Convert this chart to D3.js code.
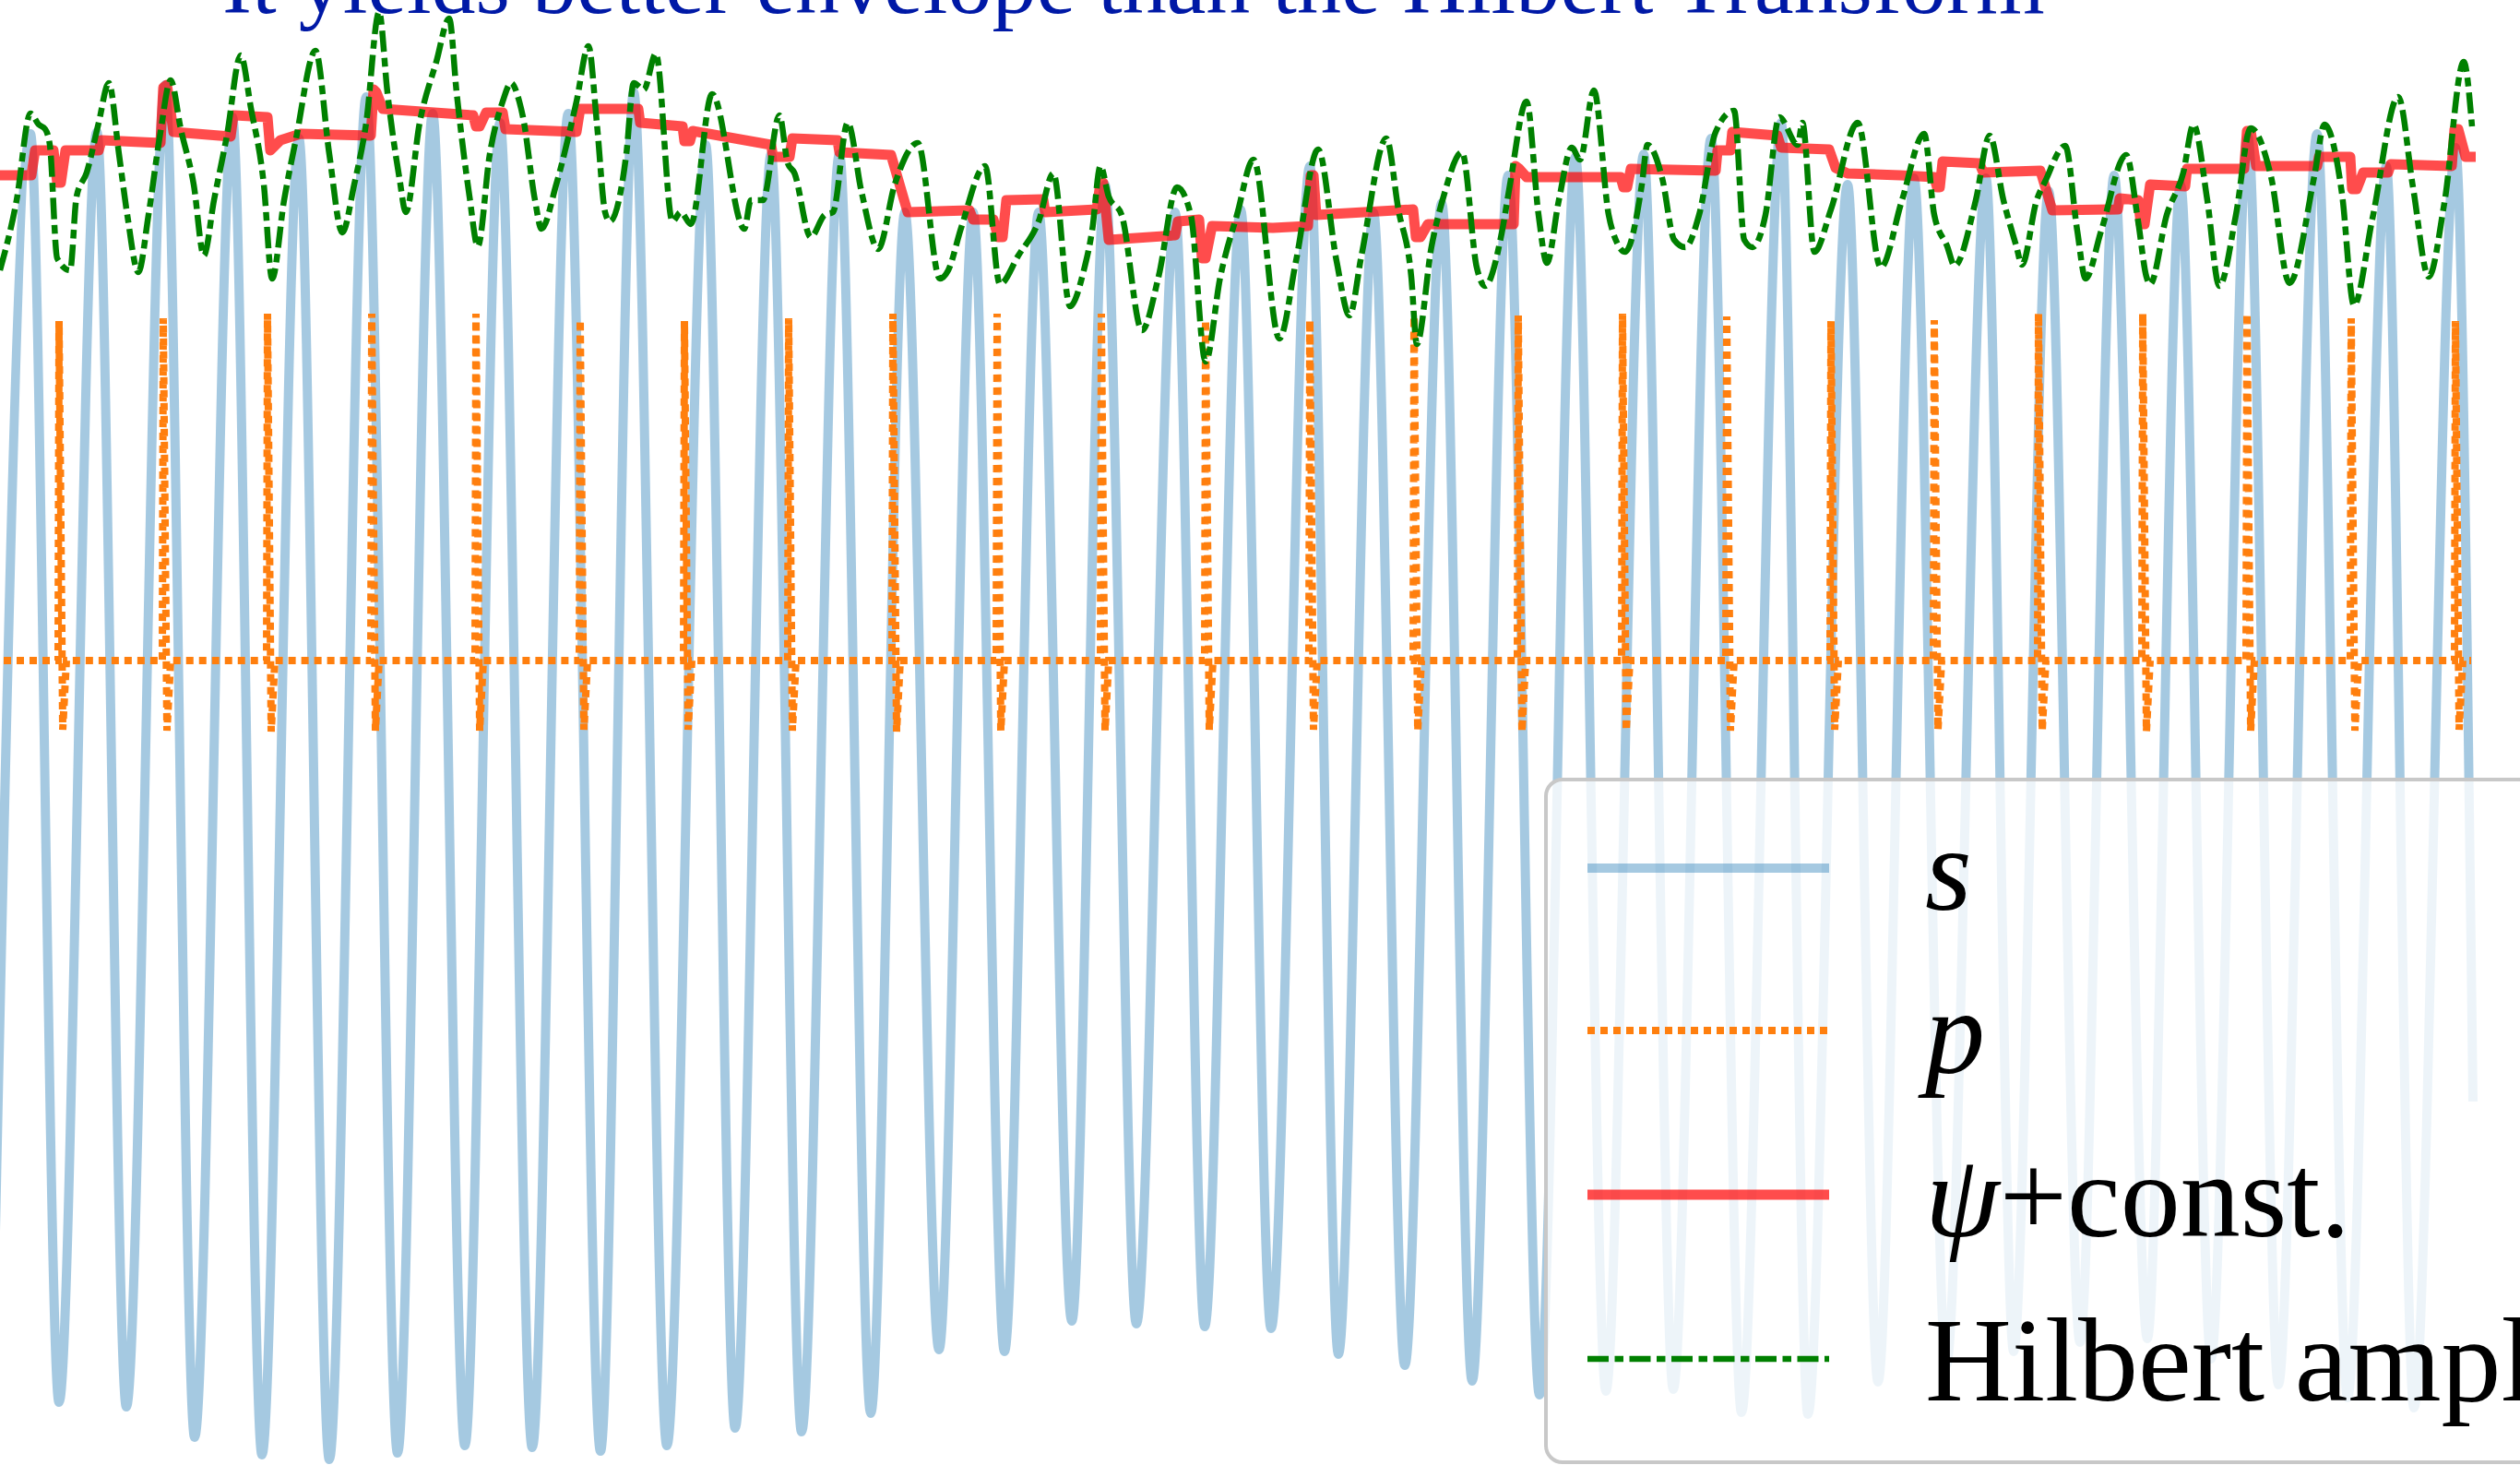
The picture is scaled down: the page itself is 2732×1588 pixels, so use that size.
<!DOCTYPE html>
<html>
<head>
<meta charset="utf-8">
<script src="https://cdn.jsdelivr.net/npm/d3@7"></script>
<style>
  html, body { margin: 0; padding: 0; background: #fff; overflow: hidden; }
  svg { display: block; }
</style>
</head>
<body>
<svg id="chart" width="2732" height="1588"></svg>
<script>
// ---------------- data (time in s, values in arbitrary units) ----------------
const titleText = "It yields better envelope than the Hilbert Transform";
const legendLabels = ["s", "p", "ψ+const.", "Hilbert amplitude"];

// signal s : local maxima / minima
const sPeakTime = [0.33, 1.05, 1.79, 2.52, 3.24, 3.97, 4.69, 5.42, 6.16, 6.87, 7.65, 8.36, 9.10, 9.81, 10.55, 11.26, 11.98, 12.74, 13.45, 14.20, 14.89, 15.63, 16.35, 17.08, 17.82, 18.55, 19.31, 20.03, 20.75, 21.53, 22.21, 22.92, 23.64, 24.37, 25.12, 25.87, 26.62];
const sPeakValue = [5.71, 5.73, 6.24, 5.89, 5.66, 6.11, 5.93, 5.83, 5.93, 6.16, 5.59, 5.49, 5.49, 4.86, 4.86, 4.86, 5.16, 4.86, 4.89, 5.36, 4.86, 4.96, 5.26, 5.46, 5.49, 5.66, 5.83, 5.16, 5.23, 5.23, 5.09, 5.26, 5.16, 5.68, 5.71, 5.36, 5.56];
const sTroughTime = [-0.08, 0.64, 1.37, 2.11, 2.84, 3.57, 4.31, 5.04, 5.77, 6.51, 7.23, 7.97, 8.69, 9.44, 10.18, 10.89, 11.62, 12.32, 13.06, 13.78, 14.51, 15.23, 15.96, 16.69, 17.41, 18.14, 18.88, 19.60, 20.36, 21.10, 21.83, 22.55, 23.28, 23.97, 24.70, 25.45, 26.17];
const sTroughValue = [-7.64, -8.04, -8.09, -8.42, -8.61, -8.66, -8.59, -8.51, -8.53, -8.57, -8.51, -8.32, -8.36, -8.16, -7.47, -7.49, -7.16, -7.19, -7.22, -7.24, -7.52, -7.64, -7.81, -7.96, -7.92, -7.90, -8.15, -8.17, -7.82, -7.64, -7.49, -7.39, -7.35, -7.57, -7.85, -7.99, -8.10];
const sEndTime = [26.81];
const sEndValue = [-4.78];

// pulse train p
const pSpikeTime = [0.64, 1.77, 2.90, 4.03, 5.16, 6.29, 7.42, 8.55, 9.68, 10.81, 11.94, 13.07, 14.20, 15.33, 16.46, 17.59, 18.72, 19.85, 20.97, 22.10, 23.23, 24.36, 25.49, 26.62];
const pSpikeTop = [3.68, 3.71, 3.76, 3.76, 3.76, 3.69, 3.68, 3.71, 3.76, 3.76, 3.76, 3.69, 3.69, 3.73, 3.74, 3.76, 3.73, 3.68, 3.69, 3.76, 3.76, 3.76, 3.71, 3.68];
const pSpikeBottom = [-0.75, -0.76, -0.77, -0.76, -0.76, -0.75, -0.75, -0.76, -0.77, -0.76, -0.76, -0.75, -0.75, -0.76, -0.77, -0.76, -0.76, -0.75, -0.75, -0.76, -0.77, -0.76, -0.76, -0.75];
const pPulseOffset = [-0.01, 0, 0.04, 0.08];   // rise, top, undershoot, recovery
const pSpan = [-0.1, 26.79];

// psi + const (step-like envelope)
const psiTime = [0.00,0.34,0.38,0.58,0.62,0.66,0.71,1.07,1.10,1.74,1.77,1.81,1.88,2.50,2.53,2.90,2.93,3.04,3.26,4.02,4.05,4.08,4.15,5.13,5.16,5.20,5.27,5.45,5.48,6.25,6.29,6.92,6.94,7.40,7.42,7.48,7.51,8.36,8.38,8.56,8.59,9.08,9.10,9.66,9.84,10.51,10.55,10.77,10.82,10.87,10.91,11.31,11.33,11.89,11.93,11.96,12.02,12.74,12.77,13.00,13.03,13.07,13.14,13.80,14.18,14.21,14.24,14.27,15.32,15.35,15.40,15.48,16.41,16.43,16.47,16.55,17.57,17.60,17.64,17.68,18.60,18.62,18.76,18.78,19.27,19.31,19.83,19.90,20.03,20.60,20.97,21.00,21.03,21.06,21.46,21.50,22.12,22.25,22.96,22.98,23.18,23.21,23.25,23.31,23.69,23.71,24.33,24.36,24.40,24.46,25.12,25.14,25.48,25.50,25.55,25.62,25.89,25.92,26.58,26.61,26.65,26.73,26.84];
const psiValue = [5.26,5.26,5.53,5.53,5.18,5.18,5.53,5.53,5.64,5.61,6.21,6.24,5.73,5.68,5.91,5.89,5.53,5.64,5.71,5.69,6.19,6.16,5.98,5.91,5.79,5.79,5.94,5.94,5.76,5.73,5.98,5.98,5.83,5.79,5.63,5.63,5.74,5.59,5.46,5.46,5.66,5.64,5.51,5.48,4.86,4.88,4.78,4.78,4.59,4.59,4.99,5.00,4.86,4.89,5.18,5.18,4.56,4.61,4.76,4.78,4.36,4.36,4.71,4.69,4.71,5.26,5.26,4.83,4.89,4.59,4.59,4.73,4.73,5.36,5.33,5.24,5.24,5.13,5.13,5.33,5.31,5.53,5.53,5.73,5.69,5.56,5.54,5.34,5.28,5.26,5.24,5.13,5.13,5.41,5.39,5.29,5.31,4.88,4.89,5.01,4.99,4.73,4.73,5.16,5.14,5.33,5.33,5.74,5.74,5.36,5.36,5.46,5.46,5.11,5.11,5.29,5.29,5.38,5.36,5.76,5.76,5.46,5.46];

// Hilbert amplitude
const hilbertTime = [0.00,0.18,0.33,0.42,0.49,0.54,0.62,0.76,0.83,0.94,1.07,1.18,1.29,1.38,1.50,1.61,1.74,1.85,1.96,2.10,2.21,2.32,2.46,2.61,2.72,2.86,2.95,3.08,3.21,3.42,3.57,3.71,3.84,3.97,4.11,4.20,4.33,4.40,4.55,4.73,4.87,4.95,5.09,5.18,5.31,5.45,5.54,5.63,5.67,5.80,5.87,6.03,6.25,6.38,6.47,6.56,6.61,6.79,6.87,6.98,7.11,7.29,7.38,7.49,7.72,8.07,8.14,8.27,8.45,8.54,8.61,8.79,8.94,9.03,9.19,9.34,9.52,9.70,9.95,10.19,10.28,10.42,10.68,10.84,11.04,11.26,11.42,11.60,11.75,11.84,11.93,12.02,12.16,12.38,12.56,12.76,12.91,13.07,13.23,13.41,13.59,13.87,14.05,14.29,14.49,14.63,14.76,15.03,15.16,15.30,15.36,15.52,15.65,15.85,16.01,16.10,16.28,16.37,16.55,16.68,16.77,16.90,17.04,17.13,17.28,17.44,17.53,17.62,17.80,17.86,18.02,18.15,18.27,18.42,18.60,18.80,18.91,19.00,19.14,19.29,19.49,19.54,19.67,19.85,20.14,20.39,20.62,20.86,20.97,21.11,21.19,21.42,21.57,21.72,21.86,21.92,22.08,22.17,22.39,22.52,22.61,22.78,23.05,23.18,23.27,23.31,23.49,23.67,23.78,23.93,24.06,24.24,24.40,24.62,24.82,25.09,25.20,25.39,25.52,25.72,26.00,26.16,26.33,26.50,26.71,26.80];
const hilbertValue = [4.23,4.99,5.93,5.81,5.76,5.59,4.36,4.23,5.03,5.29,5.83,6.26,5.49,4.83,4.21,4.83,5.73,6.29,5.76,5.16,4.39,4.99,5.69,6.56,5.99,5.16,4.14,4.99,5.66,6.61,5.49,4.64,5.16,5.83,7.03,6.16,5.23,4.86,5.83,6.49,6.96,6.16,5.03,4.49,5.49,6.06,6.26,6.06,5.89,4.99,4.68,5.16,6.06,6.66,5.83,4.86,4.76,5.49,6.26,6.19,6.58,4.76,4.86,4.73,6.14,4.68,4.99,4.99,5.91,5.39,5.29,4.59,4.83,4.86,5.83,5.08,4.46,5.16,5.61,4.14,4.23,4.69,5.36,4.08,4.39,4.76,5.28,3.84,4.23,4.66,5.36,5.03,4.83,3.58,4.16,5.13,4.83,3.24,4.16,4.83,5.43,3.49,4.33,5.54,4.33,3.74,4.39,5.66,4.89,4.16,3.43,4.49,5.03,5.51,4.26,4.06,4.63,5.16,6.06,4.83,4.31,4.99,5.56,5.43,6.18,4.83,4.53,4.43,5.16,5.59,5.23,4.56,4.48,4.83,5.73,5.96,4.56,4.48,4.83,5.89,5.59,5.83,4.43,4.89,5.83,4.26,4.99,5.71,4.83,4.49,4.28,4.99,5.69,4.99,4.49,4.29,4.99,5.19,5.58,4.66,4.14,4.66,5.48,4.76,4.16,4.08,4.83,5.29,5.81,4.99,4.06,4.83,5.77,5.25,4.09,5.25,5.81,5.06,3.85,4.79,6.11,5.13,4.16,4.96,6.49,5.79];

// ---------------- drawing ----------------
const W = 2732, H = 1588;
const svg = d3.select("#chart");
svg.append("rect").attr("width", W).attr("height", H).attr("fill", "#ffffff");

const x = d3.scaleLinear().domain([0, 27.32]).range([0, W]);
const y = d3.scaleLinear().domain([-8.72, 7.16]).range([H, 0]);

const mkLine = curve => d3.line().x(d => x(d.t)).y(d => y(d.v)).curve(curve);
const zip = (ts, vs) => ts.map((t, i) => ({ t, v: vs[i] }));

const sData = d3.sort(
  zip(sPeakTime, sPeakValue).concat(zip(sTroughTime, sTroughValue), zip(sEndTime, sEndValue)),
  d => d.t
);

const pData = [{ t: pSpan[0], v: 0 }];
pSpikeTime.forEach((t, i) => {
  const vals = [0, pSpikeTop[i], pSpikeBottom[i], 0];
  pPulseOffset.forEach((o, j) => pData.push({ t: t + o, v: vals[j] }));
});
pData.push({ t: pSpan[1], v: 0 });

const psiData = zip(psiTime, psiValue);
const hilbertData = zip(hilbertTime, hilbertValue);

const plot = svg.append("g");

plot.append("path").datum(sData)
  .attr("d", mkLine(d3.curveMonotoneX))
  .attr("fill", "none").attr("stroke", "#1f77b4").attr("stroke-opacity", 0.4)
  .attr("stroke-width", 10).attr("stroke-linejoin", "round");

plot.append("path").datum(pData)
  .attr("d", mkLine(d3.curveLinear))
  .attr("fill", "none").attr("stroke", "#ff7f0e")
  .attr("stroke-width", 8).attr("stroke-dasharray", "8,6");

plot.append("path").datum(psiData)
  .attr("d", mkLine(d3.curveLinear))
  .attr("fill", "none").attr("stroke", "#ff0000").attr("stroke-opacity", 0.7)
  .attr("stroke-width", 11).attr("stroke-linejoin", "round");

plot.append("path").datum(hilbertData)
  .attr("d", mkLine(d3.curveMonotoneX))
  .attr("fill", "none").attr("stroke", "#008000")
  .attr("stroke-width", 6.5).attr("stroke-dasharray", "23,6.5,9.5,6.5");

// title (cut at the top edge, as in the original)
svg.append("text")
  .attr("x", 241).attr("y", 14)
  .attr("font-family", "'Liberation Serif','Times New Roman',serif")
  .attr("font-size", 96).attr("fill", "#0019a6")
  .text(titleText);

// legend
const lg = svg.append("g");
lg.append("rect")
  .attr("x", 1676).attr("y", 845).attr("width", 1200).attr("height", 740).attr("rx", 18)
  .attr("fill", "#ffffff").attr("fill-opacity", 0.8)
  .attr("stroke", "#c8c8c8").attr("stroke-width", 4);

const legendStyles = [
  { stroke: "#1f77b4", op: 0.4, w: 10, dash: null },
  { stroke: "#ff7f0e", op: 1, w: 8, dash: "8,6" },
  { stroke: "#ff0000", op: 0.7, w: 11, dash: null },
  { stroke: "#008000", op: 1, w: 6.5, dash: "23,6.5,9.5,6.5" }
];
const rowY = [941, 1117, 1295, 1473];
legendLabels.forEach((lab, i) => {
  const st = legendStyles[i];
  lg.append("line")
    .attr("x1", 1721).attr("x2", 1983).attr("y1", rowY[i]).attr("y2", rowY[i])
    .attr("stroke", st.stroke).attr("stroke-opacity", st.op)
    .attr("stroke-width", st.w).attr("stroke-dasharray", st.dash);
  const tx = lg.append("text")
    .attr("x", 2087).attr("y", rowY[i] + 45)
    .attr("font-family", "'Liberation Serif','Times New Roman',serif")
    .attr("font-size", 130).attr("fill", "#000");
  if (lab === "s" || lab === "p") {
    tx.append("tspan").attr("font-style", "italic").text(lab);
  } else if (lab.startsWith("ψ")) {
    tx.append("tspan").attr("font-style", "italic").text("ψ");
    tx.append("tspan").text(lab.slice(1));
  } else {
    tx.text(lab);
  }
});
</script>
</body>
</html>
